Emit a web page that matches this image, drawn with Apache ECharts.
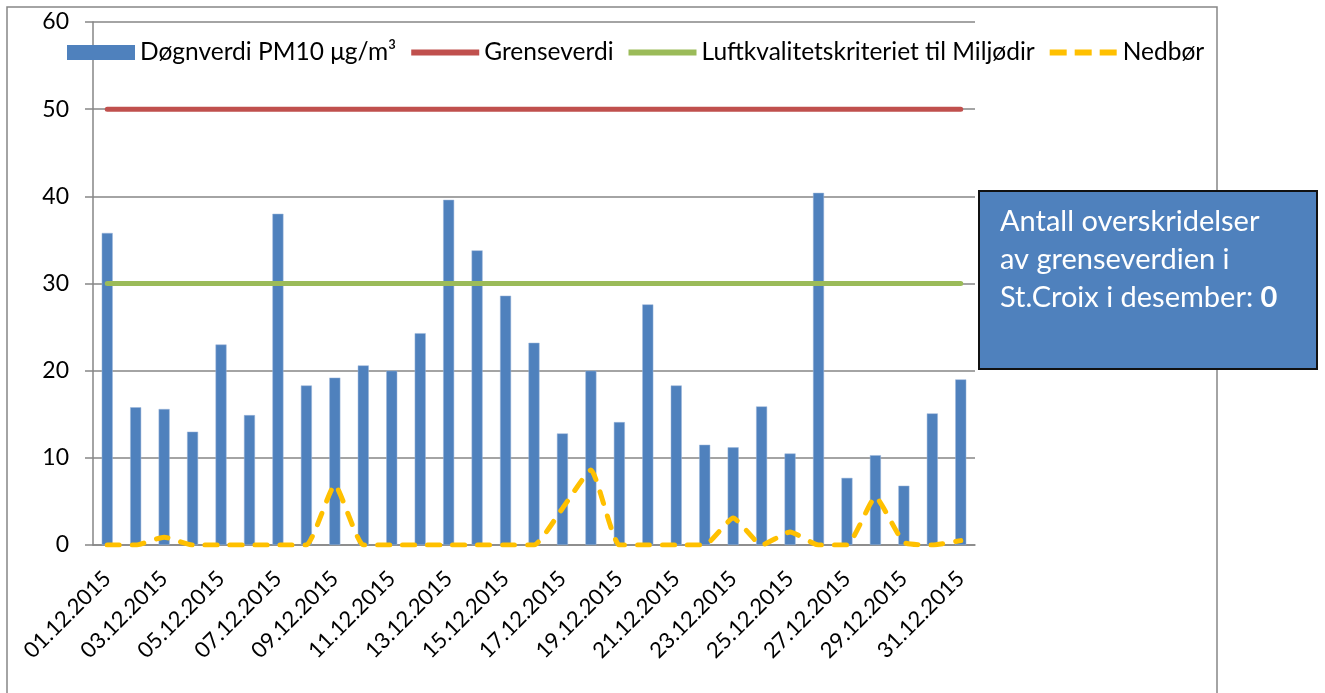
<!DOCTYPE html>
<html>
<head>
<meta charset="utf-8">
<script src="https://cdn.jsdelivr.net/npm/echarts@6/dist/echarts.min.js"></script>
<style>
  html, body { margin: 0; padding: 0; background: #fff; }
  #chart { width: 1325px; height: 693px; }
</style>
</head>
<body>
<div id="chart"></div>
<script>
// dates shown on the x axis
const dates = [
  '01.12.2015', '02.12.2015', '03.12.2015', '04.12.2015', '05.12.2015', '06.12.2015',
  '07.12.2015', '08.12.2015', '09.12.2015', '10.12.2015', '11.12.2015', '12.12.2015',
  '13.12.2015', '14.12.2015', '15.12.2015', '16.12.2015', '17.12.2015', '18.12.2015',
  '19.12.2015', '20.12.2015', '21.12.2015', '22.12.2015', '23.12.2015', '24.12.2015',
  '25.12.2015', '26.12.2015', '27.12.2015', '28.12.2015', '29.12.2015', '30.12.2015',
  '31.12.2015'
];

// daily PM10 (µg/m³)
const pm10 = [
  35.8, 15.8, 15.6, 13.0, 23.0, 14.9, 38.0, 18.3, 19.2, 20.6, 20.0, 24.3,
  39.6, 33.8, 28.6, 23.2, 12.8, 20.0, 14.1, 27.6, 18.3, 11.5, 11.2, 15.9,
  10.5, 40.4, 7.7, 10.3, 6.8, 15.1, 19.0
];

// precipitation (mm)
const nedbor = [
  0, 0, 0.9, 0, 0, 0, 0, 0, 6.9, 0, 0, 0, 0, 0, 0, 0, 4.2, 8.6, 0, 0, 0,
  0, 3.1, 0, 1.5, 0, 0, 5.5, 0.3, 0, 0.5
];

const grenseverdi = dates.map(() => 50);
const kriterie = dates.map(() => 30);

const font = 'Lato, "DejaVu Sans", sans-serif';

const chart = echarts.init(document.getElementById('chart'));

const option = {
  backgroundColor: '#fff',
  animation: false,
  textStyle: { fontFamily: font, color: '#000' },
  grid: { left: 93, right: 350, top: 22, bottom: 148 },
  legend: {
    left: 62,
    top: 35,
    itemWidth: 68,
    itemHeight: 15,
    itemGap: 12,
    textStyle: { fontFamily: font, fontSize: 24.5, color: '#000' },
    data: [
      { name: 'Døgnverdi PM10 μg/m³', icon: 'rect', itemStyle: { borderWidth: 0 } },
      { name: 'Grenseverdi', itemStyle: { opacity: 0 }, lineStyle: { width: 6, cap: 'butt' } },
      { name: 'Luftkvalitetskriteriet til Miljødir', itemStyle: { opacity: 0 }, lineStyle: { width: 6, cap: 'butt' } },
      { name: 'Nedbør', itemStyle: { opacity: 0 }, lineStyle: { width: 6, cap: 'butt', type: [17, 8] } }
    ]
  },
  xAxis: {
    type: 'category',
    data: dates,
    boundaryGap: true,
    axisLine: { lineStyle: { color: '#868686', width: 1.5 } },
    axisTick: { interval: 0, length: 7, lineStyle: { color: '#868686', width: 1.5 } },
    axisLabel: {
      interval: 1,
      rotate: 45,
      margin: 30,
      fontFamily: font,
      fontSize: 22,
      color: '#000'
    }
  },
  yAxis: {
    type: 'value',
    min: 0,
    max: 60,
    interval: 10,
    axisLine: { show: true, lineStyle: { color: '#868686', width: 1.5 } },
    axisTick: { show: true, length: 8, lineStyle: { color: '#868686', width: 1.5 } },
    splitLine: { lineStyle: { color: '#868686', width: 1.5 } },
    axisLabel: { margin: 24, fontFamily: font, fontSize: 23, color: '#000' }
  },
  series: [
    {
      name: 'Døgnverdi PM10 μg/m³',
      type: 'bar',
      data: pm10,
      barWidth: 11,
      itemStyle: { color: '#4F81BD', borderColor: '#9DB7DA', borderWidth: 0.5 }
    },
    {
      name: 'Grenseverdi',
      type: 'line',
      data: grenseverdi,
      symbol: 'none',
      lineStyle: { color: '#C0504D', width: 5, cap: 'round' },
      itemStyle: { color: '#C0504D' }
    },
    {
      name: 'Luftkvalitetskriteriet til Miljødir',
      type: 'line',
      data: kriterie,
      symbol: 'none',
      lineStyle: { color: '#9BBB59', width: 5, cap: 'round' },
      itemStyle: { color: '#9BBB59' }
    },
    {
      name: 'Nedbør',
      type: 'line',
      data: nedbor,
      symbol: 'none',
      smooth: 0.15,
      lineStyle: { color: '#FFC000', width: 5, type: [12, 13], cap: 'round' },
      itemStyle: { color: '#FFC000' }
    }
  ],
  graphic: [
    {
      type: 'rect',
      z: -1,
      shape: { x: 7, y: 7, width: 1210, height: 700 },
      style: { fill: 'none', stroke: '#868686', lineWidth: 1.5 }
    },
    {
      type: 'rect',
      z: 10,
      shape: { x: 979, y: 191, width: 338, height: 178 },
      style: { fill: '#4F81BD', stroke: '#111', lineWidth: 2 }
    },
    {
      type: 'text',
      z: 11,
      x: 1000,
      y: 203,
      style: {
        text: 'Antall overskridelser\nav grenseverdien i\nSt.Croix i desember: {b|0}',
        fill: '#fff',
        font: '29px ' + font,
        lineHeight: 38,
        verticalAlign: 'top',
        rich: {
          b: { fill: '#fff', fontWeight: 'bold', fontSize: 29, fontFamily: font, lineHeight: 38 }
        }
      }
    }
  ]
};

chart.setOption(option);
</script>
</body>
</html>
